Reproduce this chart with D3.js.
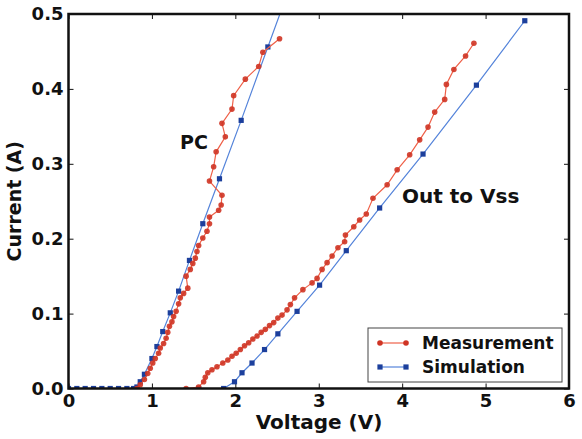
<!DOCTYPE html>
<html>
<head>
<meta charset="utf-8">
<script src="https://cdn.jsdelivr.net/npm/d3@7/dist/d3.min.js"></script>
<style>
  html, body { margin: 0; padding: 0; background: #fff; }
  svg text { font-family: "DejaVu Sans", sans-serif; font-weight: bold; fill: #111; }
</style>
</head>
<body>
<svg id="chart" width="582" height="439"></svg>
<script>
// [voltage (V), current (A)]
const pcMeasurement = [
  [0.82,0.000],[0.86,0.005],[0.91,0.012],[0.95,0.020],[0.98,0.027],[1.01,0.034],[1.04,0.040],
  [1.08,0.047],[1.10,0.054],[1.14,0.060],[1.17,0.067],[1.19,0.075],[1.21,0.083],[1.24,0.089],
  [1.26,0.096],[1.29,0.103],[1.32,0.113],[1.34,0.121],[1.38,0.127],[1.43,0.134],[1.41,0.150],
  [1.46,0.159],[1.49,0.167],[1.52,0.174],[1.54,0.183],[1.56,0.191],[1.61,0.201],[1.66,0.210],
  [1.69,0.220],[1.69,0.229],[1.80,0.238],[1.83,0.245],[1.84,0.258],[1.69,0.277],[1.74,0.296],
  [1.77,0.316],[1.88,0.336],[1.84,0.354],[1.96,0.373],[1.98,0.391],[2.12,0.413],[2.28,0.430],
  [2.33,0.449],[2.53,0.467]
];
const pcSimulation = [
  [0.0,0],[0.1,0],[0.2,0],[0.3,0],[0.4,0],[0.5,0],[0.6,0],[0.7,0],[0.78,0],
  [0.82,0.002],[0.86,0.009],[0.91,0.019],[1.00,0.040],[1.06,0.056],[1.13,0.076],[1.22,0.101],
  [1.32,0.130],[1.45,0.171],[1.61,0.220],[1.81,0.280],[2.07,0.358],[2.39,0.456],[2.78,0.575]
];
const outMeasurement = [
  [1.41,0.000],[1.56,0.002],[1.62,0.009],[1.64,0.015],[1.67,0.021],[1.72,0.025],[1.78,0.029],
  [1.85,0.034],[1.91,0.038],[1.96,0.043],[2.01,0.047],[2.06,0.052],[2.11,0.057],[2.16,0.061],
  [2.21,0.066],[2.26,0.070],[2.31,0.075],[2.36,0.079],[2.41,0.084],[2.46,0.088],[2.51,0.094],
  [2.56,0.098],[2.62,0.105],[2.66,0.112],[2.71,0.121],[2.81,0.132],[2.92,0.141],[2.98,0.147],
  [3.04,0.159],[3.10,0.168],[3.16,0.177],[3.23,0.188],[3.31,0.196],[3.32,0.205],[3.42,0.216],
  [3.49,0.225],[3.57,0.233],[3.65,0.254],[3.82,0.272],[3.94,0.292],[4.09,0.312],[4.21,0.332],
  [4.31,0.349],[4.39,0.369],[4.51,0.386],[4.53,0.406],[4.62,0.426],[4.76,0.444],[4.86,0.461]
];
const outSimulation = [
  [1.56,0],[1.86,0],[1.99,0.009],[2.08,0.021],[2.20,0.034],[2.35,0.052],[2.51,0.073],
  [2.74,0.103],[3.01,0.138],[3.33,0.184],[3.73,0.241],[4.25,0.313],[4.89,0.405],[5.47,0.491]
];
const xTicks = [0, 1, 2, 3, 4, 5, 6];
const yTicks = [0, 0.1, 0.2, 0.3, 0.4, 0.5];
const legendNames = ["Measurement", "Simulation"];

const svg = d3.select("#chart");
const box = { left: 68.5, right: 569, top: 14, bottom: 388.5 };

const x = d3.scaleLinear().domain([0, 6]).range([box.left, box.right]);
const y = d3.scaleLinear().domain([0, 0.5]).range([box.bottom, box.top]);

const red = { line: "#ef6149", mark: "#cf3424" };
const blue = { line: "#5584da", mark: "#1c3f9c" };

svg.append("defs").append("clipPath").attr("id", "plotclip")
  .append("rect")
  .attr("x", box.left).attr("y", box.top)
  .attr("width", box.right - box.left).attr("height", box.bottom - box.top);

// axes with inward ticks (matplotlib classic look)
function styleAxis(g) {
  g.select(".domain").remove();
  g.selectAll(".tick line").attr("stroke", "#111").attr("stroke-width", 1);
  g.selectAll("text").style("font-size", "18px").attr("fill", "#111");
}
svg.append("g").attr("transform", `translate(0,${box.bottom})`)
  .call(d3.axisBottom(x).tickValues(xTicks).tickFormat(d3.format("d"))
    .tickSizeInner(-5).tickSizeOuter(0).tickPadding(6))
  .call(styleAxis);
svg.append("g").attr("transform", `translate(0,${box.top})`)
  .call(d3.axisTop(x).tickValues(xTicks).tickFormat("")
    .tickSizeInner(-5).tickSizeOuter(0))
  .call(styleAxis);
svg.append("g").attr("transform", `translate(${box.left},0)`)
  .call(d3.axisLeft(y).tickValues(yTicks).tickFormat(d3.format(".1f"))
    .tickSizeInner(-5).tickSizeOuter(0).tickPadding(5))
  .call(styleAxis);
svg.append("g").attr("transform", `translate(${box.right},0)`)
  .call(d3.axisRight(y).tickValues(yTicks).tickFormat("")
    .tickSizeInner(-5).tickSizeOuter(0))
  .call(styleAxis);

const line = d3.line().x(d => x(d[0])).y(d => y(d[1]));
const plot = svg.append("g").attr("clip-path", "url(#plotclip)");

function drawSeries(data, col, shape) {
  plot.append("path")
    .attr("d", line(data))
    .attr("fill", "none")
    .attr("stroke", col.line)
    .attr("stroke-width", 1.2);
  if (shape === "circle") {
    plot.append("g").selectAll("circle")
      .data(data).join("circle")
      .attr("cx", d => x(d[0])).attr("cy", d => y(d[1]))
      .attr("r", 2.8)
      .attr("fill", col.mark).attr("opacity", 0.9);
  } else {
    plot.append("g").selectAll("rect")
      .data(data).join("rect")
      .attr("x", d => x(d[0]) - 2.6).attr("y", d => y(d[1]) - 2.6)
      .attr("width", 5.2).attr("height", 5.2)
      .attr("fill", col.mark);
  }
}
drawSeries(pcSimulation, blue, "square");
drawSeries(outSimulation, blue, "square");
drawSeries(pcMeasurement, red, "circle");
drawSeries(outMeasurement, red, "circle");

// frame
svg.append("rect")
  .attr("x", box.left).attr("y", box.top)
  .attr("width", box.right - box.left).attr("height", box.bottom - box.top)
  .attr("fill", "none").attr("stroke", "#111").attr("stroke-width", 2.5);

// annotations
svg.append("text").attr("x", 180).attr("y", 149).style("font-size", "19px").text("PC");
svg.append("text").attr("x", 402).attr("y", 203).style("font-size", "20px").text("Out to Vss");

// axis labels
svg.append("text").attr("x", 319).attr("y", 429)
  .attr("text-anchor", "middle").style("font-size", "20px").text("Voltage (V)");
svg.append("text").attr("transform", `translate(21,${(box.top + box.bottom) / 2}) rotate(-90)`)
  .attr("text-anchor", "middle").style("font-size", "19px").text("Current (A)");

// legend
const legend = svg.append("g").attr("transform", "translate(368,328)");
legend.append("rect").attr("width", 194).attr("height", 54)
  .attr("fill", "#fff").attr("stroke", "#444").attr("stroke-width", 1);
[red, blue].forEach((col, i) => {
  const ly = 15 + i * 24;
  const g = legend.append("g").attr("transform", `translate(0,${ly})`);
  g.append("line").attr("x1", 12).attr("x2", 38).attr("y1", 0).attr("y2", 0)
    .attr("stroke", col.line).attr("stroke-width", 1.2);
  [12, 38].forEach(px => {
    if (i === 0) g.append("circle").attr("cx", px).attr("cy", 0).attr("r", 2.8).attr("fill", col.mark);
    else g.append("rect").attr("x", px - 2.6).attr("y", -2.6).attr("width", 5.2).attr("height", 5.2).attr("fill", col.mark);
  });
  g.append("text").attr("x", 54).attr("y", 6).style("font-size", "17px").text(legendNames[i]);
});
</script>
</body>
</html>
